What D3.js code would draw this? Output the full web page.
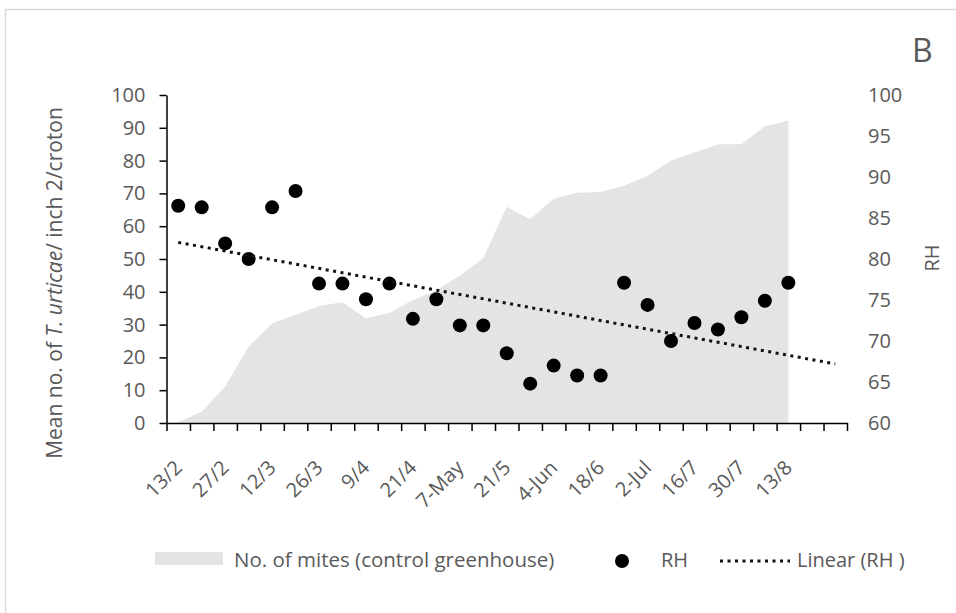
<!DOCTYPE html>
<html>
<head>
<meta charset="utf-8">
<script src="https://cdn.jsdelivr.net/npm/d3@7"></script>
<style>
  body { margin: 0; background: #fff; }
  text { font-family: "Open Sans", sans-serif; fill: #595959; }
</style>
</head>
<body>
<svg id="chart" width="956" height="613"></svg>
<script>
// values
const tickLabels = ["13/2", "27/2", "12/3", "26/3", "9/4", "21/4", "7-May", "21/5", "4-Jun", "18/6", "2-Jul", "16/7", "30/7", "13/8"];
const mites = [0.3, 3.4, 11.1, 23.3, 30.4, 32.9, 35.7, 36.8, 31.9, 33.6, 37.5, 40.5, 44.9, 50.2, 65.9, 62.1, 68.4, 70.2, 70.4, 72.3, 75.3, 80.0, 82.5, 85.0, 85.0, 90.5, 92.2];
const rh = [86.5, 86.3, 81.9, 80.0, 86.3, 88.3, 77.0, 77.0, 75.1, 77.0, 72.7, 75.1, 71.9, 71.9, 68.5, 64.8, 67.0, 65.8, 65.8, 77.1, 74.4, 70.0, 72.2, 71.4, 72.9, 74.9, 77.1];
const nCategories = 29;   // two empty slots after the last date
const trendForward = 2;   // excel trendline forecast
const leftTicks = d3.range(0, 101, 10);
const rightTicks = d3.range(60, 101, 5);

const svg = d3.select("#chart");
const plotL = 166.5, plotR = 847, plotT = 95, plotB = 423;

// light frame round the chart
svg.append("rect")
    .attr("x", 5.5).attr("y", 9.5)
    .attr("width", 970).attr("height", 640)
    .attr("fill", "none")
    .attr("stroke", "#d9d9d9")
    .attr("stroke-width", 1.5);

const x = d3.scaleLinear().domain([0, nCategories]).range([plotL, plotR]);
const cx = i => x(i + 0.5);
const yL = d3.scaleLinear().domain([0, 100]).range([plotB, plotT]);
const yR = d3.scaleLinear().domain([60, 100]).range([plotB, plotT]);

// area of mite counts
svg.append("path")
    .datum(mites)
    .attr("fill", "#e4e4e4")
    .attr("d", d3.area()
        .x((d, i) => cx(i))
        .y0(yL(0))
        .y1(d => yL(d)));

// axes
const axisX = svg.append("g")
    .attr("transform", `translate(0,${plotB})`)
    .call(d3.axisBottom(x).tickValues(d3.range(nCategories + 1)).tickFormat("").tickSize(8).tickSizeOuter(0));
axisX.selectAll("path, line").attr("stroke", "#000").attr("stroke-width", 1.5);

const axisL = svg.append("g")
    .attr("transform", `translate(${plotL},0)`)
    .call(d3.axisLeft(yL).tickValues(leftTicks).tickSize(7).tickSizeOuter(0).tickPadding(14));
axisL.selectAll("path, line").attr("stroke", "#000").attr("stroke-width", 1.5);
axisL.selectAll("text").style("font-size", "20px").attr("fill", "#595959");

const axisR = svg.append("g")
    .attr("transform", `translate(${plotR},0)`)
    .call(d3.axisRight(yR).tickValues(rightTicks).tickSize(0).tickPadding(21));
axisR.select(".domain").remove();
axisR.selectAll("text").style("font-size", "20px").attr("fill", "#595959");

// rotated date labels, every second category
svg.append("g").selectAll("text")
    .data(tickLabels)
    .join("text")
    .attr("transform", (d, i) => `translate(${cx(i * 2) + 5},${plotB + 46}) rotate(-45)`)
    .attr("text-anchor", "end")
    .style("font-size", "20px")
    .text(d => d);

// RH points
svg.append("g").selectAll("circle")
    .data(rh)
    .join("circle")
    .attr("cx", (d, i) => cx(i))
    .attr("cy", d => yR(d))
    .attr("r", 7)
    .attr("fill", "#000");

// linear trend of RH
const idx = rh.map((d, i) => i);
const mx = d3.mean(idx), my = d3.mean(rh);
const slope = d3.sum(idx, i => (i - mx) * (rh[i] - my)) / d3.sum(idx, i => (i - mx) ** 2);
const icpt = my - slope * mx;
const trendEnd = rh.length - 1 + trendForward;
svg.append("line")
    .attr("x1", cx(0)).attr("y1", yR(icpt))
    .attr("x2", cx(trendEnd)).attr("y2", yR(icpt + slope * trendEnd))
    .attr("stroke", "#111")
    .attr("stroke-width", 3)
    .attr("stroke-dasharray", "3 4.5");

// axis titles
svg.append("text")
    .attr("transform", "translate(62,283) rotate(-90)")
    .attr("text-anchor", "middle")
    .style("font-size", "21px")
    .html('Mean no. of <tspan font-style="italic">T. urticae</tspan>/ inch 2/croton');

svg.append("text")
    .attr("transform", "translate(939,258) rotate(-90)")
    .attr("text-anchor", "middle")
    .style("font-size", "20px")
    .text("RH");

svg.append("text")
    .attr("x", 912).attr("y", 62)
    .style("font-size", "32px")
    .text("B");

// legend
const lg = svg.append("g");
lg.append("rect").attr("x", 155).attr("y", 552).attr("width", 68).attr("height", 13).attr("fill", "#e4e4e4");
lg.append("text").attr("x", 234).attr("y", 567).style("font-size", "20.5px").text("No. of mites (control greenhouse)");
lg.append("circle").attr("cx", 622).attr("cy", 561).attr("r", 7).attr("fill", "#000");
lg.append("text").attr("x", 661).attr("y", 567).style("font-size", "20px").text("RH");
lg.append("line").attr("x1", 720).attr("x2", 790).attr("y1", 561).attr("y2", 561)
    .attr("stroke", "#111").attr("stroke-width", 3).attr("stroke-dasharray", "3 4.5");
lg.append("text").attr("x", 797).attr("y", 567).style("font-size", "20px").text("Linear (RH )");
</script>
</body>
</html>
